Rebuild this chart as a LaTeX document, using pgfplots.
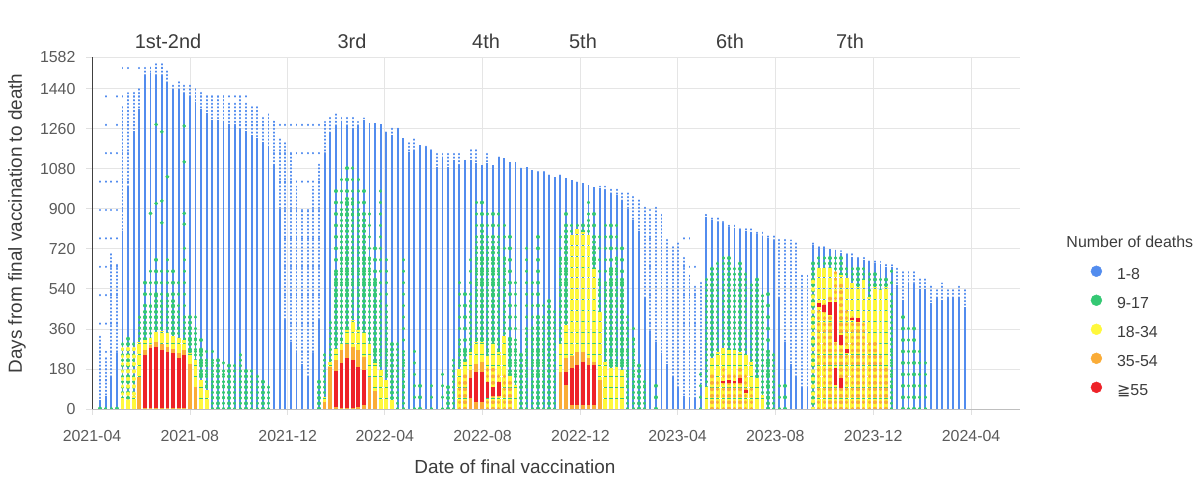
\documentclass[border=0pt]{standalone}
\usepackage{pgfplots}
\pgfplotsset{compat=1.18}
\usepackage{pgfplotstable}
\usepackage{fontspec}
\setmainfont{Liberation Sans}
\newfontfamily\dejavu{DejaVu Sans}
\definecolor{cblue}{RGB}{82,140,238}
\definecolor{cgreen}{RGB}{52,200,115}
\definecolor{cyellow}{RGB}{255,248,60}
\definecolor{corange}{RGB}{250,172,55}
\definecolor{cred}{RGB}{238,34,40}
\definecolor{tick}{RGB}{90,90,90}
\definecolor{ttl}{RGB}{60,60,60}

% columns: x = days since 2021-04-01 (weekly bins); V = scattered dots top; P = dotted top; D = dense top;
% G = dense green top; GS = sparse green top; Y = yellow top; YS = sparse yellow top; O = orange top; OS = sparse orange top
\pgfplotstableread{
x V P D G GS Y YS O OS
10 1100 330 40 15 0 0 0 0 0
17 1410 240 60 20 0 0 0 0 0
24 1200 700 150 15 0 0 0 0 0
31 1480 650 250 20 0 0 0 0 0
38 1546 1370 800 300 0 50 300 0 0
45 1571 1420 1000 318 0 40 300 0 0
52 1520 1426 1250 310 0 60 280 0 0
59 1560 1450 1350 420 0 300 0 145 0
66 1580 1530 1500 450 572 310 0 265 0
73 1571 1540 1508 480 640 320 0 288 0
80 1560 1553 1500 520 700 345 0 300 0
87 1550 1553 1500 500 640 350 0 290 0
94 1530 1526 1470 520 700 340 0 280 0
101 1520 1464 1440 500 650 330 0 270 0
108 1510 1471 1440 440 600 320 0 250 0
115 1500 1464 1420 420 750 310 0 265 0
122 1500 1464 1400 400 450 250 0 200 0
129 1490 1441 1380 347 460 220 0 100 0
136 1480 1426 1350 288 350 130 0 0 0
143 1470 1404 1330 230 300 85 0 0 0
150 1460 1404 1300 235 260 0 0 0 0
157 1450 1404 1300 235 0 0 0 0 0
164 1445 1410 1290 180 220 0 0 0 0
171 1440 1374 1280 200 0 0 0 0 0
178 1430 1374 1270 205 0 0 0 0 0
185 1420 1404 1260 250 0 0 0 0 0
192 1410 1374 1250 190 0 0 0 0 0
199 1400 1366 1230 175 0 0 0 0 0
206 1395 1359 1220 150 0 0 0 0 0
213 1390 1314 1200 145 0 0 0 0 0
220 1380 1336 1180 120 0 0 0 0 0
227 1370 1299 1100 0 0 0 0 0 0
234 1360 1224 900 0 0 0 0 0 0
241 1350 1200 400 0 0 0 0 0 0
248 1340 1150 300 0 0 0 0 0 0
255 1330 1000 250 0 0 0 0 0 0
262 1320 900 200 0 0 0 0 0 0
269 1310 900 150 0 0 0 0 0 0
276 1310 1000 250 0 0 0 0 0 0
283 1300 1100 400 145 0 0 0 0 0
290 1330 1291 1150 250 0 55 0 30 0
297 0 1321 1246 393 0 210 0 190 0
304 0 1326 1276 625 1014 270 0 220 0
311 0 1321 1291 900 1060 295 0 265 0
318 0 1321 1276 950 1096 355 0 290 0
325 0 1321 1261 950 1120 400 0 280 0
332 0 1291 1270 900 1045 355 0 265 0
339 0 1306 1300 850 1000 340 0 235 0
346 0 1284 1284 700 900 295 0 145 0
353 0 1287 1287 600 730 205 0 80 0
360 0 1281 1281 500 1014 175 0 0 0
367 0 1246 1246 450 715 130 0 0 0
374 0 1269 1231 295 0 40 0 0 0
381 0 1261 1261 295 0 0 0 0 0
388 0 1216 1216 250 677 0 0 0 0
395 0 1200 1156 0 0 0 0 0 0
402 0 1224 1164 0 265 0 0 0 0
409 0 1186 1186 0 130 0 0 0 0
416 0 1179 1179 0 0 0 0 0 0
423 0 1164 1164 0 115 0 0 0 0
430 0 1149 1089 0 0 0 0 0 0
437 0 1156 1126 0 200 0 0 0 0
444 0 1149 1089 100 0 0 0 0 0
451 0 1149 1119 230 0 0 0 0 0
458 0 1156 1096 300 600 180 0 0 130
465 0 1119 1119 290 557 210 0 0 165
472 0 1171 1119 500 700 258 0 175 0
479 0 1164 1104 750 933 300 0 200 0
486 0 1096 1096 800 945 300 0 213 0
493 0 1149 1104 750 887 240 0 0 195
500 0 1096 1096 750 900 290 0 0 180
507 0 1134 1126 750 915 258 0 0 170
514 0 1126 1126 700 870 330 0 0 168
521 0 1111 1111 330 780 150 0 0 120
528 0 1111 1111 300 570 108 0 0 0
535 0 1081 1081 258 0 0 0 0 0
542 0 1089 1089 350 737 0 0 0 0
549 0 1074 1074 378 600 0 0 0 0
556 0 1066 1066 420 780 0 0 0 0
563 0 1066 1066 400 500 0 0 0 0
570 0 1052 1052 500 0 0 0 0 0
577 0 1044 1044 440 0 0 0 0 0
584 0 1052 1052 700 810 290 0 168 0
591 0 1037 1037 800 917 377 0 228 0
598 0 1029 1029 800 870 780 0 240 0
605 0 1022 1022 810 850 810 0 258 0
612 0 1014 1014 800 850 796 0 258 0
619 0 1007 1007 850 960 780 0 228 0
626 0 999 999 750 887 630 0 210 0
633 0 1000 992 600 780 437 0 130 0
640 0 1000 985 557 857 210 0 0 0
647 0 992 970 632 834 183 0 0 0
654 0 992 960 700 840 190 0 0 0
661 0 969 940 600 760 175 0 0 0
668 0 969 900 407 460 0 0 0 0
675 0 954 850 333 385 0 0 0 0
682 0 939 800 198 0 0 0 0 0
689 0 909 500 130 145 0 0 0 0
696 947 880 350 0 0 0 0 0 0
703 0 909 300 0 140 0 0 0 0
710 0 880 250 0 0 0 0 0 0
717 0 767 200 0 0 0 0 0 0
724 0 737 150 0 0 0 0 0 0
731 0 752 100 0 0 0 0 0 0
738 864 685 60 0 0 0 0 0 0
745 782 600 50 0 0 0 0 0 0
752 715 550 50 0 0 0 0 0 0
759 0 580 100 0 200 0 0 0 0
766 0 880 864 595 0 100 0 0 0
773 0 864 850 640 0 228 0 0 150
780 0 857 840 670 0 258 0 0 140
787 0 850 835 685 0 273 0 0 183
794 0 827 820 690 0 265 0 0 153
801 0 830 815 647 0 265 0 0 168
808 0 822 808 655 0 258 0 0 183
815 0 815 800 617 0 243 0 0 153
822 0 808 795 572 0 213 0 0 100
829 0 800 785 595 0 138 0 0 0
836 0 794 774 512 0 63 0 0 0
843 0 787 767 258 527 0 0 0 0
850 0 780 760 258 0 0 0 0 0
857 0 772 500 0 150 0 0 0 0
864 0 765 300 0 150 0 0 0 0
871 0 758 200 0 0 0 0 0 0
878 0 750 150 0 0 0 0 0 0
885 0 600 100 0 0 0 0 0 0
892 0 600 100 0 0 0 0 0 0
899 0 745 737 660 0 0 600 0 0
906 0 738 730 692 0 632 0 0 480
913 0 731 725 700 0 640 0 0 482
920 0 724 720 700 0 632 0 0 500
927 0 717 710 690 0 617 0 0 617
934 0 710 700 680 0 602 0 0 557
941 0 703 692 650 0 587 0 0 450
948 0 696 685 640 0 565 0 0 420
955 0 689 677 640 0 550 0 0 407
962 0 682 670 640 0 580 0 0 380
969 0 675 662 617 0 505 0 0 300
976 0 668 655 617 0 550 0 0 320
983 0 661 650 600 0 535 0 0 250
990 0 654 640 600 0 550 0 0 200
997 0 647 640 497 640 0 0 0 0
1004 0 632 557 0 0 0 0 0 0
1011 0 625 490 0 440 0 0 0 0
1018 0 617 560 0 380 0 0 0 0
1025 0 617 560 0 370 0 0 0 0
1032 0 587 540 0 300 0 0 0 0
1039 0 595 540 0 230 0 0 0 0
1046 0 557 475 0 0 0 0 0 0
1053 0 535 500 0 0 0 0 0 0
1060 0 565 490 0 0 0 0 0 0
1067 0 542 500 0 0 0 0 0 0
1074 0 542 500 0 0 0 0 0 0
1081 0 550 497 0 0 0 0 0 0
1088 0 542 460 0 0 0 0 0 0
}\data

\pgfplotsset{
  col/.style={ycomb, no marks, forget plot, restrict y to domain=1:2000},
}

\begin{document}
\begin{tikzpicture}
\path[use as bounding box] (0,0) rectangle (1200bp,487bp);
\begin{axis}[
  at={(92bp,78bp)}, anchor=south west,
  scale only axis, width=928bp, height=352bp,
  xmin=0, xmax=1157, ymin=0, ymax=1582,
  axis lines=left, axis line style={-},
  x axis line style={draw=black!25, line width=0.8pt},
  y axis line style={draw=black!75, line width=0.9pt},
  xtick={0,122,244,365,487,609,730,852,974,1096},
  xticklabels={2021-04,2021-08,2021-12,2022-04,2022-08,2022-12,2023-04,2023-08,2023-12,2024-04},
  ytick={0,180,360,540,720,900,1080,1260,1440,1582},
  yticklabels={0,180,360,540,720,900,1080,1260,1440,1582},
  grid=major, major grid style={draw=black!10, line width=0.7pt},
  tick style={draw=black!12, line width=0.7pt},
  tick align=outside, major tick length=6bp,
  tick label style={font=\fontsize{16}{18}\selectfont, text=tick},
  yticklabel style={xshift=-7bp},
  xticklabel style={yshift=-12bp},
  xlabel={Date of final vaccination},
  ylabel={Days from final vaccination to death},
  label style={font=\fontsize{19}{22}\selectfont, text=ttl},
  xlabel style={at={(axis description cs:0.4558,-0.1648)}, anchor=center},
  ylabel style={at={(axis description cs:-0.0808,0.527)}, anchor=center},
  clip mode=individual,
  legend style={at={(axis description cs:1.076,0.408)}, anchor=north west,
    draw=none, fill=none, inner sep=0pt,
    font=\fontsize{16}{19}\selectfont, text=ttl,
    row sep=11.6pt,
    /tikz/every odd column/.append style={column sep=13pt}},
  legend cell align=left,
  legend image code/.code={\fill[#1] (0.2cm,3.5pt) circle (5.5pt);},
]
% blue: 1-8 deaths
\addplot[col, cblue, line width=1.9pt, line cap=round, dash pattern=on 0.5pt off 28pt] table[x=x,y=V]{\data};
\addplot[col, cblue, line width=1.9pt, line cap=round, dash pattern=on 0.6pt off 3pt] table[x=x,y=P]{\data};
\addplot[col, cblue, line width=1.9pt] table[x=x,y=D]{\data};
% green: 9-17
\addplot[col, cgreen, line width=3.4pt, line cap=round, dash pattern=on 0.5pt off 11pt] table[x=x,y=GS]{\data};
\addplot[col, cgreen, line width=3.4pt, line cap=round, dash pattern=on 0.6pt off 4.8pt] table[x=x,y=G]{\data};
\addplot[only marks, forget plot, mark=*, mark size=1.7pt, cgreen] coordinates {
(80,1279) (80,924) (87,1246) (87,935) (87,837) (73,879) (94,1044) (115,1272) (115,1111) (115,879) (115,831)};
% yellow: 18-34
\addplot[col, cyellow, line width=3.8pt, line cap=round, dash pattern=on 0.5pt off 7pt] table[x=x,y=YS]{\data};
\addplot[col, cyellow, line width=3.8pt, dash pattern=on 10pt off 1pt] table[x=x,y=Y]{\data};
% orange: 35-54
\addplot[col, corange, line width=3.4pt, line cap=round, dash pattern=on 0.5pt off 6pt] table[x=x,y=OS]{\data};
\addplot[col, corange, line width=3.8pt] table[x=x,y=O]{\data};
% red: >=55 (segments)
\addplot[forget plot, cred, line width=3.8pt, unbounded coords=jump] coordinates {
(66,5) (66,243) (66,nan) (73,5) (73,273) (73,nan) (80,5) (80,280) (80,nan)
(87,5) (87,265) (87,nan) (94,5) (94,258) (94,nan) (101,5) (101,250) (101,nan)
(108,5) (108,228) (108,nan) (115,5) (115,243) (115,nan)
(304,10) (304,170) (304,nan) (311,5) (311,205) (311,nan) (318,5) (318,228) (318,nan)
(325,5) (325,220) (325,nan) (332,10) (332,190) (332,nan) (339,20) (339,175) (339,nan)
(472,48) (472,138) (472,nan) (479,33) (479,168) (479,nan) (486,33) (486,168) (486,nan)
(493,50) (493,120) (493,nan) (500,60) (500,100) (500,nan) (507,60) (507,120) (507,nan)
(591,108) (591,168) (591,nan) (598,18) (598,183) (598,nan) (605,18) (605,198) (605,nan)
(612,18) (612,213) (612,nan) (619,18) (619,198) (619,nan) (626,18) (626,198) (626,nan)
(787,118) (787,128) (787,nan) (794,115) (794,130) (794,nan) (801,118) (801,128) (801,nan)
(808,115) (808,138) (808,nan) (815,70) (815,85) (815,nan)
(906,460) (906,475) (906,nan) (913,436) (913,466) (913,nan) (920,424) (920,482) (920,nan)
(927,302) (927,482) (927,nan) (927,108) (927,183) (927,nan)
(934,288) (934,333) (934,nan) (934,93) (934,138) (934,nan)
(941,250) (941,270) (941,nan) (948,400) (948,410) (948,nan) (955,393) (955,408)
};
% legend
\addlegendimage{cblue}\addlegendentry{1-8}
\addlegendimage{cgreen}\addlegendentry{9-17}
\addlegendimage{cyellow}\addlegendentry{18-34}
\addlegendimage{corange}\addlegendentry{35-54}
\addlegendimage{cred}\addlegendentry{{\dejavu ≧}55}
% annotations
\node[anchor=west, font=\fontsize{16}{19}\selectfont, text=ttl] at (axis description cs:1.0463,0.4744) {Number of deaths};
\node[font=\fontsize{20}{24}\selectfont, text=ttl] at (axis description cs:0.0819,1.0455) {1st-2nd};
\node[font=\fontsize{20}{24}\selectfont, text=ttl] at (axis description cs:0.2802,1.0455) {3rd};
\node[font=\fontsize{20}{24}\selectfont, text=ttl] at (axis description cs:0.4246,1.0455) {4th};
\node[font=\fontsize{20}{24}\selectfont, text=ttl] at (axis description cs:0.5291,1.0455) {5th};
\node[font=\fontsize{20}{24}\selectfont, text=ttl] at (axis description cs:0.6875,1.0455) {6th};
\node[font=\fontsize{20}{24}\selectfont, text=ttl] at (axis description cs:0.8168,1.0455) {7th};
\end{axis}
\end{tikzpicture}
\end{document}
